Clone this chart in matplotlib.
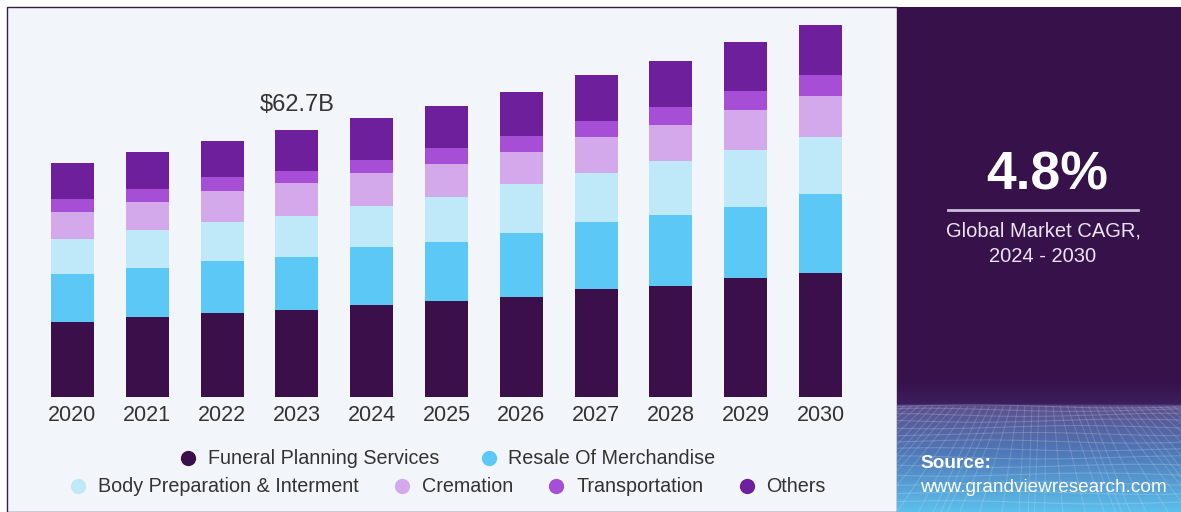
import numpy as np
import matplotlib
matplotlib.use("Agg")
import matplotlib.pyplot as plt
from matplotlib.patches import Rectangle
from matplotlib.lines import Line2D
from matplotlib.colors import LinearSegmentedColormap

plt.rcParams['font.family'] = ['Liberation Sans', 'DejaVu Sans']

# market size by segment, USD billion
years = ['2020', '2021', '2022', '2023', '2024', '2025', '2026', '2027', '2028', '2029', '2030']
funeral_planning = [17.7, 18.9, 19.7, 20.4, 21.5, 22.5, 23.5, 25.3, 26.1, 27.9, 29.2]
resale_merch = [11.1, 11.4, 12.3, 12.5, 13.7, 13.9, 15.0, 15.7, 16.6, 16.8, 18.4]
body_prep = [8.3, 9.0, 9.2, 9.6, 9.6, 10.6, 11.6, 11.6, 12.7, 13.2, 13.5]
cremation = [6.4, 6.4, 7.1, 7.7, 7.8, 7.7, 7.4, 8.5, 8.6, 9.6, 9.6]
transportation = [2.9, 3.1, 3.3, 2.9, 3.0, 3.7, 3.9, 3.7, 4.1, 4.4, 4.9]
others = [8.5, 8.8, 8.6, 9.6, 9.9, 10.0, 10.3, 10.8, 10.8, 11.5, 11.7]

segments = ['Funeral Planning Services', 'Resale Of Merchandise', 'Body Preparation & Interment',
            'Cremation', 'Transportation', 'Others']
series = [funeral_planning, resale_merch, body_prep, cremation, transportation, others]
colors = ['#3a0f4a', '#5bc8f5', '#bfe9f9', '#d4a9ec', '#a64fd6', '#6e1f9c']

cagr = '4.8%'
cagr_text = 'Global Market CAGR,\n2024 - 2030'
label_year = '2023'

W, H = 1181, 512
fig = plt.figure(figsize=(W / 100, H / 100), dpi=100)
fig.patch.set_facecolor('white')


def fx(px):
    return px / W


def fy(py):
    return 1 - py / H


# panels (behind everything else)
fig.patches.append(Rectangle((fx(7), 0), fx(890), fy(7), transform=fig.transFigure,
                             facecolor='#f2f6fa', edgecolor='#3a1a4a', linewidth=1, zorder=-2))
fig.patches.append(Rectangle((fx(897), 0), fx(W - 897), fy(7), transform=fig.transFigure,
                             facecolor='#36114a', edgecolor='none', zorder=-2))

# bars
ax = fig.add_axes([fx(8), fy(397), fx(889), (397 - 7) / H])
ax.set_facecolor('none')
x = np.arange(len(years))
bottom = np.zeros(len(years))
for name, vals, c in zip(segments, series, colors):
    ax.bar(x, vals, bottom=bottom, width=0.575, color=c, label=name, linewidth=0)
    bottom += np.array(vals)

ax.set_xlim(-0.862, 11.023)
ax.set_ylim(0, 91.6)
ax.set_xticks(x, years, fontsize=15.5, color='#333333')
ax.tick_params(axis='x', length=0, pad=6)
ax.set_yticks([])
for s in ax.spines.values():
    s.set_visible(False)

i = years.index(label_year)
ax.annotate(f'${bottom[i]:.1f}B', (x[i], bottom[i]), xytext=(0, 14), textcoords='offset points',
            ha='center', va='baseline', fontsize=17, color='#333333')

# legend in two rows
handles = [Line2D([], [], marker='o', linestyle='none', markersize=11, markerfacecolor=c,
                  markeredgecolor='none') for c in colors]
leg1 = fig.legend(handles[:2], segments[:2], loc='center', bbox_to_anchor=(fx(447), fy(459)),
                  ncol=2, frameon=False, fontsize=14.2, handlelength=1.0, handletextpad=0.5,
                  columnspacing=2.0, labelcolor='#333333', borderpad=0)
leg2 = fig.legend(handles[2:], segments[2:], loc='center', bbox_to_anchor=(fx(447), fy(487)),
                  ncol=4, frameon=False, fontsize=14.2, handlelength=1.0, handletextpad=0.5,
                  columnspacing=1.7, labelcolor='#333333', borderpad=0)

# right panel text
fig.text(fx(1047), fy(176), cagr, ha='center', va='center', fontsize=38.5, fontweight='bold',
         color='white')
fig.add_artist(Line2D([fx(948), fx(1138)], [fy(210), fy(210)], transform=fig.transFigure,
                      color='#cdbfdc', linewidth=2))
fig.text(fx(1043), fy(244), cagr_text, ha='center', va='center', fontsize=14.5,
         color='#ece4f2', linespacing=1.45)

# gradient strip with a wavy grid at the bottom right
gax = fig.add_axes([fx(897), 0, fx(W - 897), (512 - 380) / H])
cmap = LinearSegmentedColormap.from_list('strip', [(0, '#36114a'), (0.18, '#3d1f5e'),
                                                   (0.19, '#5c4f8c'), (0.55, '#4f78b8'),
                                                   (1, '#5cbfec')])
grad = np.linspace(0, 1, 200).reshape(-1, 1)
gax.imshow(grad, aspect='auto', cmap=cmap, extent=(0, 1, 0, 1), origin='upper')
t = np.linspace(0, 1, 200)
for k in range(14):
    yy = 0.8 * (1 - (k / 14) ** 1.3)
    gax.plot(t, yy + 0.012 * np.sin(6 * t + k), color='white', alpha=0.18, lw=0.8)
for k in range(-10, 30):
    x0 = k / 20
    gax.plot([0.5 + (x0 - 0.5) * 0.5, x0 + 0.03 * np.sin(k)], [0.8, 0], color='white',
             alpha=0.15, lw=0.8)
gax.set_xlim(0, 1)
gax.set_ylim(0, 1)
gax.axis('off')

fig.text(fx(920), fy(464), 'Source:', ha='left', va='center', fontsize=13.7, fontweight='bold',
         color='white')
fig.text(fx(920), fy(488), 'www.grandviewresearch.com', ha='left', va='center', fontsize=13.7,
         color='white')

fig.savefig('out.png', dpi=100)
